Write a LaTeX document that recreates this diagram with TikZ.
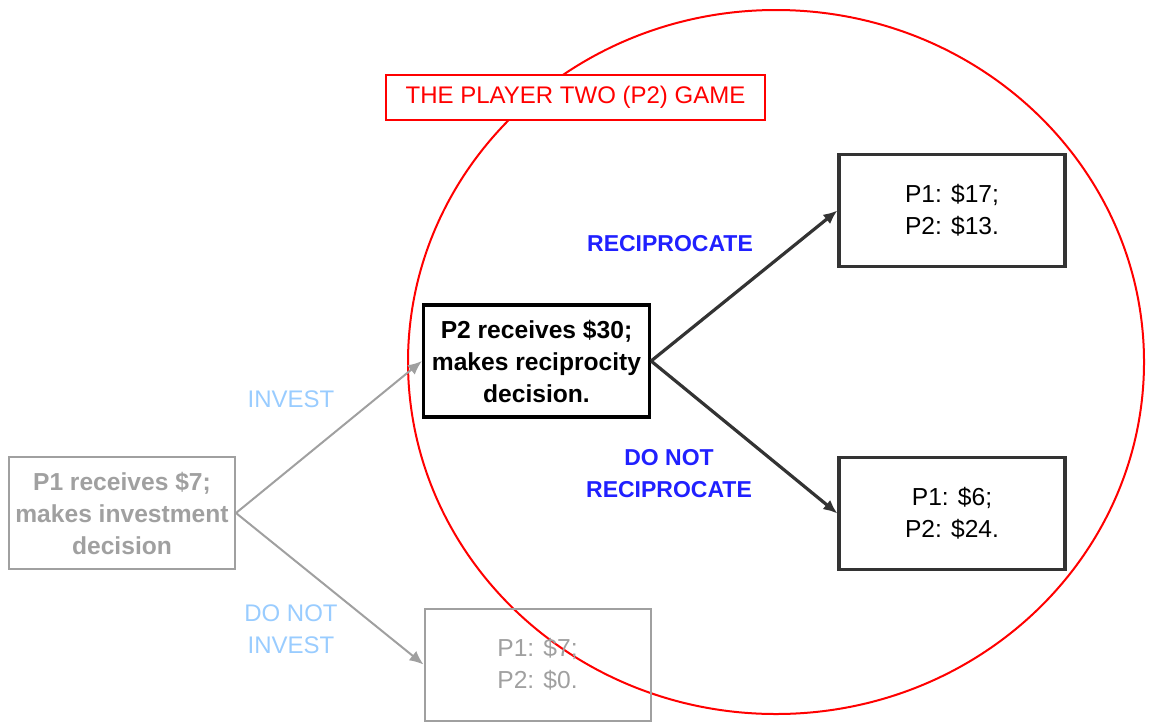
\documentclass[tikz,border=0pt]{standalone}
\usepackage{fontspec}
\setmainfont{Liberation Sans}
\usepackage{tikz}
\usetikzlibrary{arrows.meta, positioning}
\definecolor{boxgray}{HTML}{A0A0A0}
\definecolor{lightblue}{HTML}{99CCFF}
\definecolor{darkline}{HTML}{333333}
\definecolor{labelblue}{HTML}{2020FF}

\begin{document}
\begin{tikzpicture}[x=0.5pt, y=-0.5pt,
    box/.style={draw, align=center, minimum width=113pt, minimum height=56pt, inner sep=0pt, font=\fontsize{12.3}{16}\selectfont},
    greybox/.style={box, draw=boxgray, line width=1pt, text=boxgray},
    darkbox/.style={box, draw=darkline, line width=1.6pt, text=black},
    greyarrow/.style={-{Latex[length=7pt,width=6pt]}, boxgray, line width=1pt},
    darkarrow/.style={-{Latex[length=7pt,width=6pt]}, darkline, line width=1.6pt},
    move/.style={align=center, inner sep=0pt, font=\fontsize{12}{16}\selectfont}]
    \useasboundingbox (0,0) rectangle (1149,723);
    % the player two game
    \draw[red, line width=1pt] (776,362) ellipse [x radius=368, y radius=352];
    \node[draw=red, fill=white, line width=1pt, minimum width=189.5pt, minimum height=22.5pt, inner sep=0pt, text=red, font=\fontsize{12}{14}\selectfont] (title) at (575.5,97.5) {THE PLAYER TWO (P2) GAME};
    % decision nodes
    \node[greybox, font=\fontsize{12.3}{16}\selectfont\bfseries] (p1) at (122,513) {P1 receives \$7;\\makes investment\\decision};
    \node[darkbox, draw=black, font=\fontsize{12.3}{16}\selectfont\bfseries] (p2) at (536.5,361) {P2 receives \$30;\\makes reciprocity\\decision.};
    % payoffs
    \node[greybox] (noinv) at (537.5,664.5) {P1: \$7;\\P2: \$0.};
    \node[darkbox] (recip) at (952,210.5) {P1: \$17;\\P2: \$13.};
    \node[darkbox] (norecip) at (952,513.5) {P1: \$6;\\P2: \$24.};
    \draw[greyarrow] (p1.east) -- (p2.west);
    \draw[greyarrow] (p1.east) -- (noinv.west);
    \draw[darkarrow] (p2.east) -- (recip.west);
    \draw[darkarrow] (p2.east) -- (norecip.west);
    % move labels
    \node[move, text=lightblue] (inv) at (291,399) {INVEST};
    \node[move, text=lightblue] (noinvlbl) at (291,629) {DO NOT\\INVEST};
    \node[move, text=labelblue, font=\fontsize{11.5}{16}\selectfont\bfseries] (reciplbl) at (670,244) {RECIPROCATE};
    \node[move, text=labelblue, font=\fontsize{11.5}{16}\selectfont\bfseries] (norecipl) at (669,474) {DO NOT\\RECIPROCATE};
\end{tikzpicture}
\end{document}
